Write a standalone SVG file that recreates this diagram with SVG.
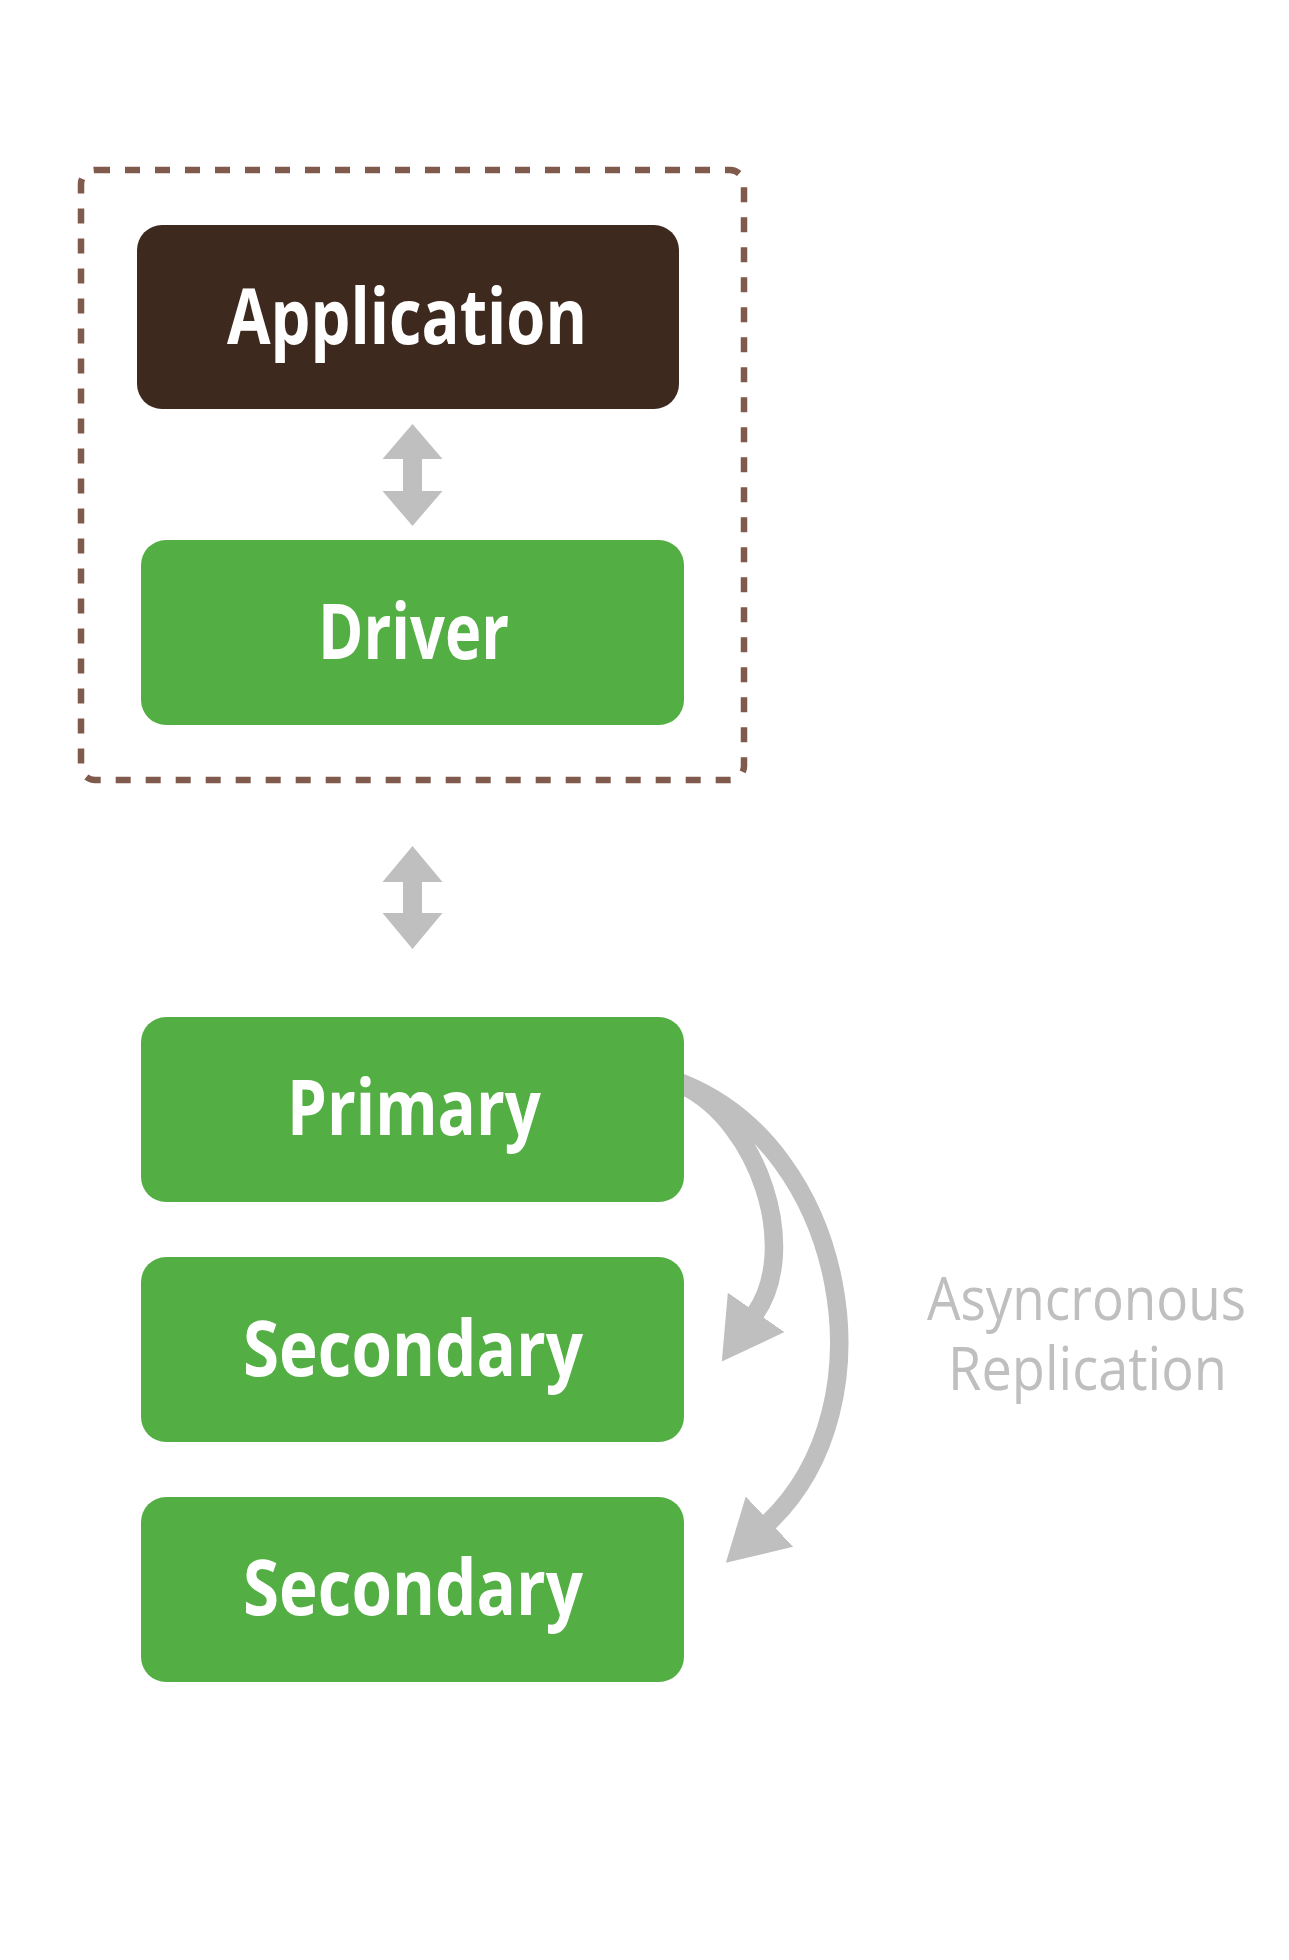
<svg xmlns="http://www.w3.org/2000/svg" width="1289" height="1960" viewBox="0 0 1289 1960">
  <style>
    .box-green { fill: #53AE44; }
    .box-brown { fill: #3E291F; }
    .label { font-family: "Open Sans", "Lato", "Liberation Sans", sans-serif; font-weight: 700; font-size: 77px; fill: #FFFFFF; text-anchor: middle; }
    .note { font-family: "Open Sans", "Lato", "Liberation Sans", sans-serif; font-weight: 400; font-size: 60px; fill: #C0BFC0; text-anchor: middle; }
    .dbl { fill: #C0BFC0; }
    .arc { fill: none; stroke: #C0BFC0; stroke-width: 18.5; }
  </style>
  <defs>
    <marker id="head" markerUnits="userSpaceOnUse" markerWidth="70" markerHeight="80" viewBox="0 -40 70 80" refX="2" refY="0" orient="auto">
      <polygon points="0,-34.5 60,0 0,34.5" fill="#C0BFC0"/>
    </marker>
  </defs>
  <rect width="1289" height="1960" fill="#FFFFFF"/>

  <g id="boundary">
    <rect x="81" y="170" width="663" height="610" rx="14" ry="14" fill="none" stroke="#805B4D" stroke-width="6.5" stroke-dasharray="15 15"/>
  </g>

  <g id="connectors">
    <polygon class="dbl" points="412.5,424 442.5,459 422,459 422,491 442.5,491 412.5,526 382.5,491 403,491 403,459 382.5,459"/>
    <polygon class="dbl" points="412.5,846 442.5,882 422,882 422,913 442.5,913 412.5,949 382.5,913 403,913 403,882 382.5,882"/>
    <path class="arc" d="M670,1078 L684,1084 C846,1150 893,1405 768,1523" marker-end="url(#head)"/>
    <path class="arc" d="M670,1080 L684,1086 C758,1122 801,1248 755,1314" marker-end="url(#head)"/>
  </g>

  <g id="application">
    <rect class="box-brown" x="137" y="225" width="542" height="184" rx="25" ry="25"/>
    <text class="label" x="407" y="344" textLength="360" lengthAdjust="spacingAndGlyphs">Application</text>
  </g>

  <g id="driver">
    <rect class="box-green" x="141" y="540" width="543" height="185" rx="25" ry="25"/>
    <text class="label" x="413.5" y="659" textLength="191" lengthAdjust="spacingAndGlyphs">Driver</text>
  </g>

  <g id="primary">
    <rect class="box-green" x="141" y="1017" width="543" height="185" rx="25" ry="25"/>
    <text class="label" x="414" y="1135" textLength="254" lengthAdjust="spacingAndGlyphs">Primary</text>
  </g>

  <g id="secondary1">
    <rect class="box-green" x="141" y="1257" width="543" height="185" rx="25" ry="25"/>
    <text class="label" x="413" y="1376" textLength="340" lengthAdjust="spacingAndGlyphs">Secondary</text>
  </g>

  <g id="secondary2">
    <rect class="box-green" x="141" y="1497" width="543" height="185" rx="25" ry="25"/>
    <text class="label" x="413" y="1615" textLength="340" lengthAdjust="spacingAndGlyphs">Secondary</text>
  </g>

  <g id="replication-label">
    <text class="note" x="1086.5" y="1320" textLength="319" lengthAdjust="spacingAndGlyphs">Asyncronous</text>
    <text class="note" x="1087.5" y="1390" textLength="279" lengthAdjust="spacingAndGlyphs">Replication</text>
  </g>
</svg>
